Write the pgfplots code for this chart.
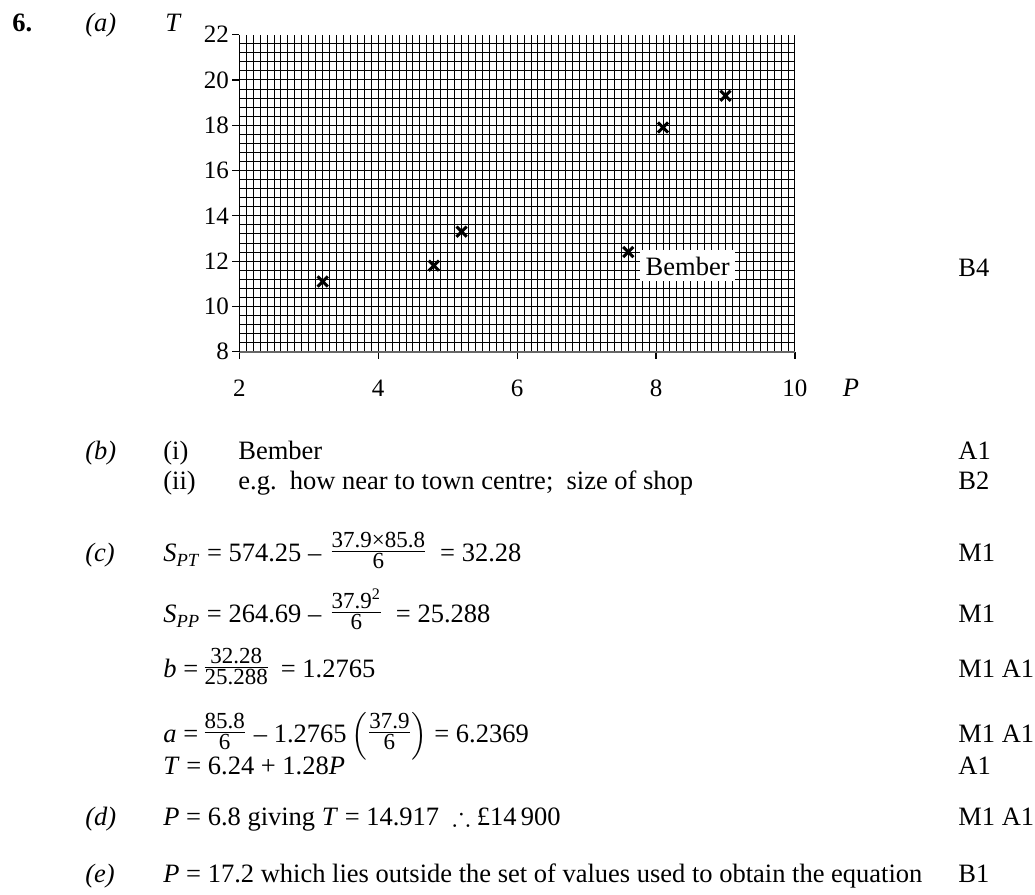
\documentclass[border=0pt]{standalone}
\usepackage{amsmath}
\usepackage{amssymb}
\usepackage{pgfplots}
\pgfplotsset{compat=1.18}
\usepackage{fontspec}
\setmainfont{Liberation Serif}

\newcommand\bodyfont{\fontsize{13.25}{16}\selectfont}
\newcommand\tickfont{\fontsize{12.5}{14}\selectfont}
\newcommand\fracfont{\fontsize{11.5}{13}\selectfont}
\newcommand\fr[2]{\raisebox{1.5pt}{$\genfrac{}{}{0.5pt}{1}{\mbox{\fracfont #1}}{\mbox{\fracfont #2}}$}}

\begin{document}
\begin{tikzpicture}[x=0.5pt,y=0.5pt,
    txt/.style={anchor=base west, inner sep=0pt, font=\bodyfont}]
\path[use as bounding box] (0,0) rectangle (1035,895);

\begin{axis}[
    at={(119.65pt,271.65pt)}, anchor=south west,
    scale only axis, width=277.85pt, height=158.5pt,
    xmin=2, xmax=10, ymin=8, ymax=22, enlargelimits=false,
    axis lines*=left, axis line style={-},
    x axis line style={black!60, line width=1pt},
    y axis line style={black, line width=0.6pt},
    xtick={2,4,...,10}, ytick={8,10,...,22},
    minor xtick={2.1,2.2,...,10.05},
    minor ytick={8.4,8.8,...,21.7},
    grid=minor, minor grid style={black, line width=0.5pt},
    minor tick length=0pt,
    tick align=outside, major tick length=3.5pt,
    tick style={black, line width=0.6pt},
    /pgf/number format/assume math mode=true,
    xticklabel={\tickfont\pgfmathprintnumber{\tick}},
    yticklabel={\tickfont\pgfmathprintnumber{\tick}},
    xticklabel style={anchor=base, yshift=-19pt},
    yticklabel style={inner xsep=1.5pt},
    xlabel={\textit{P}},
    xlabel style={at={(axis description cs:1.1008,-0.1429)}, anchor=base, font=\bodyfont},
    ylabel={\textit{T}},
    ylabel style={rotate=-90, at={(axis description cs:-0.1184,1.0085)}, anchor=base, font=\bodyfont},
  ]
  \addplot[only marks, mark=x, mark size=3.6pt, mark options={line width=1.5pt, black}]
    coordinates {
      (3.2, 11.1)
      (4.8, 11.8)
      (5.2, 13.3)
      (7.6, 12.4)
      (8.1, 17.9)
      (9.0, 19.3)
    };
  \node[anchor=base west, fill=white, inner xsep=2.75pt, inner ysep=0pt,
        text height=12.85pt, text depth=2.75pt, font=\bodyfont]
    at (axis cs:7.766,11.355) {Bember};
\end{axis}

% header
\node[txt] at (12,863) {\textbf{6.}};
\node[txt] at (85,863) {\textit{(a)}};
\node[txt] at (958,618) {B4};

% (b)
\node[txt] at (85,435) {\textit{(b)}};
\node[txt] at (163,435) {(i)};
\node[txt] at (238,435) {Bember};
\node[txt] at (958,435) {A1};
\node[txt] at (163,405) {(ii)};
\node[txt] at (238,405) {e.g.\ \ how near to town centre;\ \ size of shop};
\node[txt] at (958,405) {B2};

% (c)
\node[txt] at (85,333) {\textit{(c)}};
\node[txt] at (163,333) {\textit{S}\textsubscript{\textit{PT}} = 574.25 –\hspace{4pt}\fr{37.9×85.8}{6}\hspace{3pt} = 32.28};
\node[txt] at (958,333) {M1};
\node[txt] at (163,272) {\textit{S}\textsubscript{\textit{PP}} = 264.69 –\hspace{4pt}\fr{37.9\textsuperscript{2}}{6}\hspace{3pt} = 25.288};
\node[txt] at (958,272) {M1};
\node[txt] at (163,217) {\textit{b} =\hspace{2pt}\fr{32.28}{25.288}\hspace{2pt} = 1.2765};
\node[txt] at (958,217) {M1 A1};
\node[txt] at (163,152) {\textit{a} =\hspace{2pt}\fr{85.8}{6} – 1.2765\,$\left(\fr{37.9}{6}\right)$ = 6.2369};
\node[txt] at (958,152) {M1 A1};
\node[txt] at (163,120) {\textit{T} = 6.24 + 1.28\textit{P}};
\node[txt] at (958,120) {A1};

% (d)
\node[txt] at (85,69) {\textit{(d)}};
\node[txt] at (163,69) {\textit{P} = 6.8 giving \textit{T} = 14.917\ \ $\therefore$ £14\,900};
\node[txt] at (958,69) {M1 A1};

% (e)
\node[txt] at (85,12) {\textit{(e)}};
\node[txt] at (163,12) {\textit{P} = 17.2 which lies outside the set of values used to obtain the equation};
\node[txt] at (958,12) {B1};
\end{tikzpicture}
\end{document}
